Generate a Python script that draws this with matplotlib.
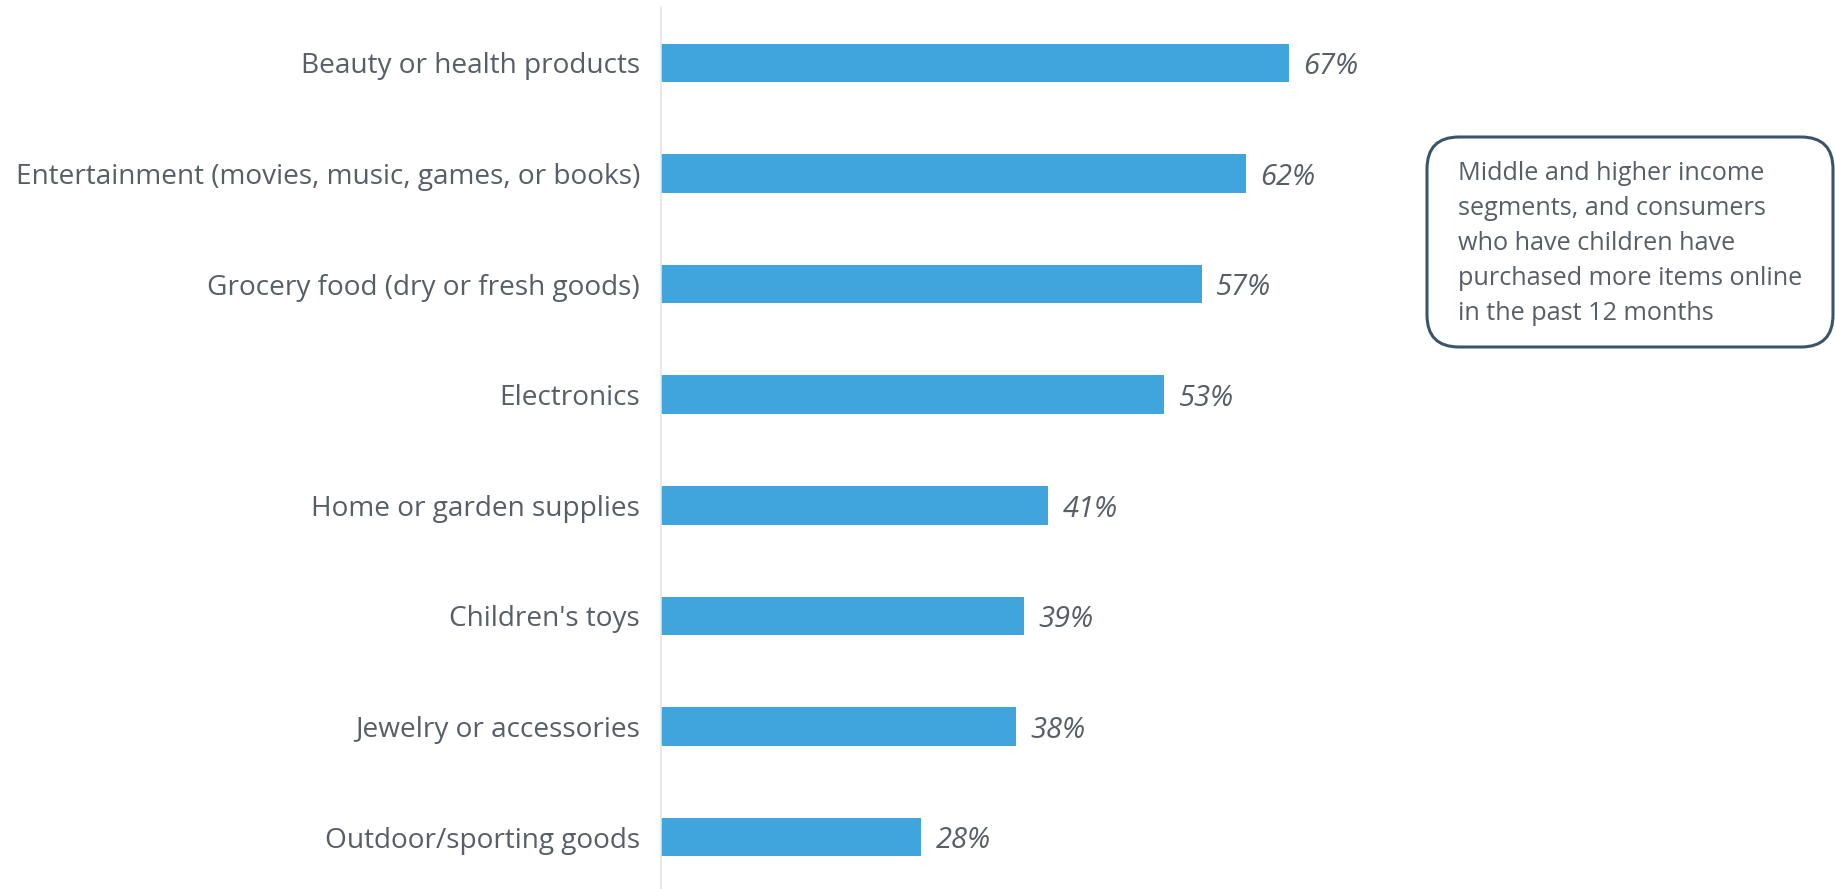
import matplotlib
matplotlib.use("Agg")
import matplotlib.pyplot as plt
from matplotlib.patches import FancyBboxPatch

categories = [
    "Beauty or health products",
    "Entertainment (movies, music, games, or books)",
    "Grocery food (dry or fresh goods)",
    "Electronics",
    "Home or garden supplies",
    "Children's toys",
    "Jewelry or accessories",
    "Outdoor/sporting goods",
]
# percent shown next to each bar
labels = [67, 62, 57, 53, 41, 39, 38, 28]
# bar lengths as measured on the picture (slightly unrounded)
values = [67.0, 62.4, 57.7, 53.7, 41.3, 38.7, 37.9, 27.8]
note = ("Middle and higher income\nsegments, and consumers\nwho have children have\n"
        "purchased more items online\nin the past 12 months")

text_col = "#575e66"
bar_col = "#41a5dd"
plt.rcParams["font.family"] = ["Open Sans", "DejaVu Sans"]

W, H = 1835, 889
fig = plt.figure(figsize=(W / 100, H / 100), dpi=100)
ax = fig.add_axes([661 / W, 0, 937 / W, 1 - 7 / H])

pos = list(range(len(categories)))
ax.barh(pos, values, height=0.35, color=bar_col)
for p, v, lab in zip(pos, values, labels):
    ax.text(v + 1.55, p + 0.035, f"{lab}%", va="center", ha="left", fontsize=21,
            style="italic", color=text_col)

ax.set_xlim(0, 100)
ax.set_ylim(len(categories) - 0.53, -0.506)
ax.set_yticks(pos)
ax.set_yticklabels(categories, fontsize=20.2, color=text_col)
ax.tick_params(axis="y", length=0, pad=15)
ax.set_xticks([])
for s in ["top", "right", "bottom"]:
    ax.spines[s].set_visible(False)
ax.spines["left"].set_color("#e4e4e4")
ax.spines["left"].set_linewidth(1.2)

# callout box
bx, by, bw, bh = 1427, 542, 406, 210
ax2 = fig.add_axes([bx / W, by / H, bw / W, bh / H])
ax2.set_xlim(0, bw)
ax2.set_ylim(0, bh)
ax2.axis("off")
box = FancyBboxPatch((0, 0), bw, bh, boxstyle="round,pad=0,rounding_size=32",
                     facecolor="white", edgecolor="#3a5569", linewidth=2.2,
                     clip_on=False)
ax2.add_patch(box)
ax2.text(31, bh - 24, note, ha="left", va="top", fontsize=18.2, color=text_col,
         linespacing=1.52)

fig.savefig("out.png", dpi=100)
